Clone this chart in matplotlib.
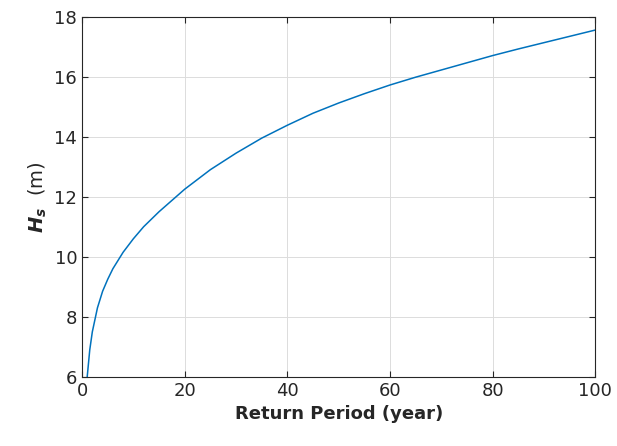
import matplotlib
matplotlib.use("Agg")
import matplotlib.pyplot as plt

plt.rcParams["mathtext.fontset"] = "custom"
plt.rcParams["mathtext.it"] = "DejaVu Sans:italic:bold"
plt.rcParams["mathtext.rm"] = "DejaVu Sans"

return_period = [1, 1.5, 2, 3, 4, 5, 6, 8, 10, 12, 15, 20, 25, 30, 35, 40, 45, 50, 55, 60, 65, 70, 75, 80, 85, 90, 95, 100]
hs = [6.0, 6.9, 7.5, 8.3, 8.85, 9.25, 9.6, 10.15, 10.6, 11.0, 11.5, 12.25, 12.9, 13.45, 13.95, 14.38, 14.78, 15.12, 15.43, 15.72, 15.98, 16.22, 16.46, 16.7, 16.92, 17.13, 17.34, 17.55]
xticks = [0, 20, 40, 60, 80, 100]
yticks = [6, 8, 10, 12, 14, 16, 18]

fig = plt.figure(figsize=(6.17, 4.46), dpi=100)
ax = fig.add_axes([0.133, 0.155, 0.832, 0.808])
ax.plot(return_period, hs, color="#0072BD", lw=1.1)
ax.set_xlim(0, 100)
ax.set_ylim(6, 18)
ax.set_xticks(xticks)
ax.set_yticks(yticks)
ax.grid(True, color="#dcdcdc", lw=0.7)
ax.tick_params(direction="in", labelsize=13, length=4, top=True, right=True, colors="#262626")
for s in ax.spines.values():
    s.set_color("#262626"); s.set_linewidth(0.8)
ax.set_xlabel("Return Period (year)", fontsize=13, fontweight="bold", color="#262626")
ax.set_ylabel(r"$H_s$  (m)", fontsize=14, color="#262626")
fig.savefig("out.png", dpi=100)
